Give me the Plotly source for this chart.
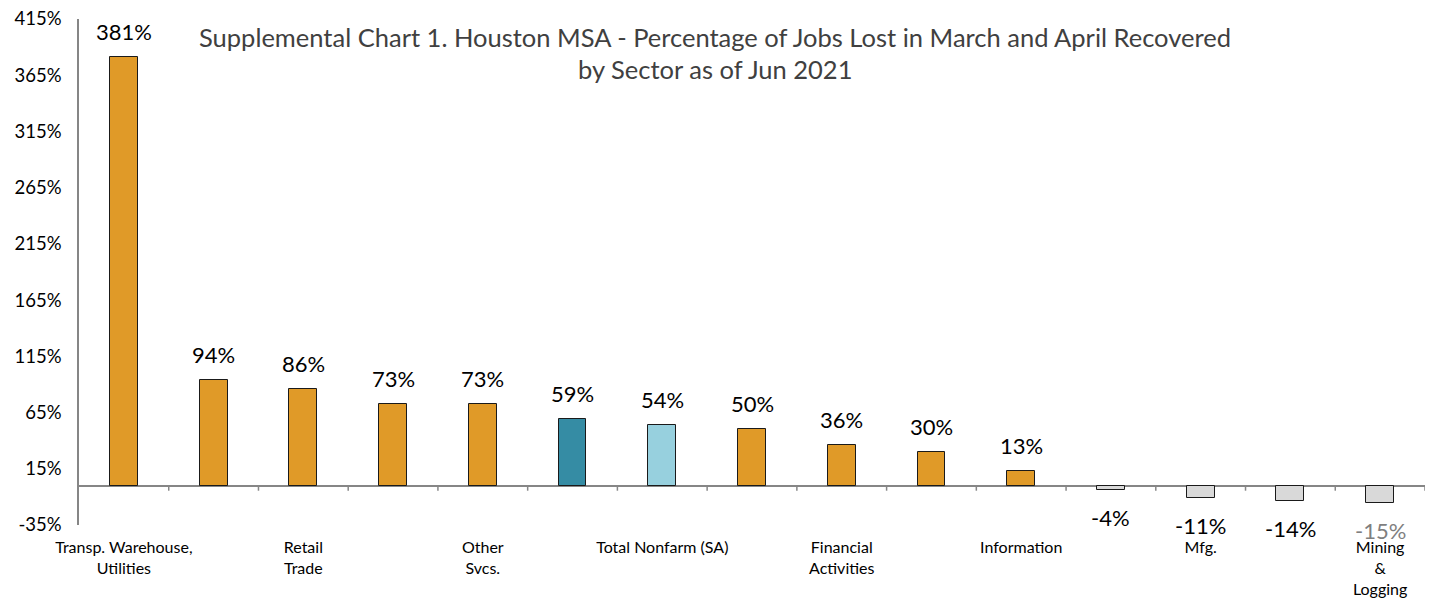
import plotly.graph_objects as go

tick_labels = ["Transp. Warehouse,<br>Utilities", "", "Retail<br>Trade", "", "Other<br>Svcs.", "",
               "Total Nonfarm (SA)", "", "Financial<br>Activities", "", "Information", "",
               "Mfg.", "", "Mining<br>&<br>Logging"]
values = [381, 94, 86, 73, 73, 59, 54, 50, 36, 30, 13, -4, -11, -14, -15]
bar_colors = ["#E09A28"] * 5 + ["#358CA4", "#97D0DE"] + ["#E09A28"] * 4 + ["#D9D9D9"] * 4
label_colors = ["#000000"] * 14 + ["#7F7F7F"]
y_ticks = [-35, 15, 65, 115, 165, 215, 265, 315, 365, 415]
title_lines = ["Supplemental Chart 1. Houston MSA - Percentage of Jobs Lost in March and April Recovered",
               "by Sector as of Jun 2021"]

FONT = "Lato"
x = list(range(len(values)))

fig = go.Figure()
fig.add_trace(go.Bar(
    x=x, y=values, width=0.31,
    marker=dict(color=bar_colors, line=dict(color="#1a1a1a", width=1)),
    hoverinfo="skip", showlegend=False,
))

for xi, v, c in zip(x, values, label_colors):
    fig.add_annotation(
        x=xi, y=v, text=f"{v}%", showarrow=False,
        yanchor="bottom" if v >= 0 else "top",
        yshift=10 if v >= 0 else -12,
        font=dict(family=FONT, size=22, color=c),
    )

# category boundary tick marks on the zero line
for b in range(len(values)):
    fig.add_shape(type="line", xref="x", yref="y", x0=b + 0.5, x1=b + 0.5, y0=0, y1=-4.5,
                  line=dict(color="#868686", width=1.5))

# two-line title
for line, py in zip(title_lines, [0.9644, 0.901]):
    fig.add_annotation(
        x=0.4725, xref="paper", y=py, yref="paper", text=line, showarrow=False,
        xanchor="center", yanchor="middle",
        font=dict(family=FONT, size=25.5, color="#404040"),
    )

# page body has an 8px margin, so the figure is sized to fit inside the window
fig.update_layout(
    width=1426, height=591,
    margin=dict(l=71, r=9, t=11, b=74),
    plot_bgcolor="white", paper_bgcolor="white",
    bargap=0,
    font=dict(family=FONT, color="#000000"),
)
fig.update_xaxes(
    range=[-0.5, len(values) - 0.5], automargin=False,
    tickvals=x, ticktext=tick_labels,
    showline=False, showgrid=False, zeroline=False,
    ticks="outside", ticklen=8, tickcolor="rgba(0,0,0,0)",
    tickfont=dict(family=FONT, size=16, color="#000000"),
)
fig.update_yaxes(
    range=[-35, 415], automargin=False,
    tickvals=y_ticks, ticktext=[f"{t}%" for t in y_ticks],
    showline=True, linecolor="#868686", linewidth=1.5,
    showgrid=False, zeroline=True, zerolinecolor="#868686", zerolinewidth=1.5,
    ticks="", ticklabelstandoff=12, ticklabeloverflow="allow",
    tickfont=dict(family=FONT, size=18.5, color="#000000"),
)

fig.write_html("out.html")
